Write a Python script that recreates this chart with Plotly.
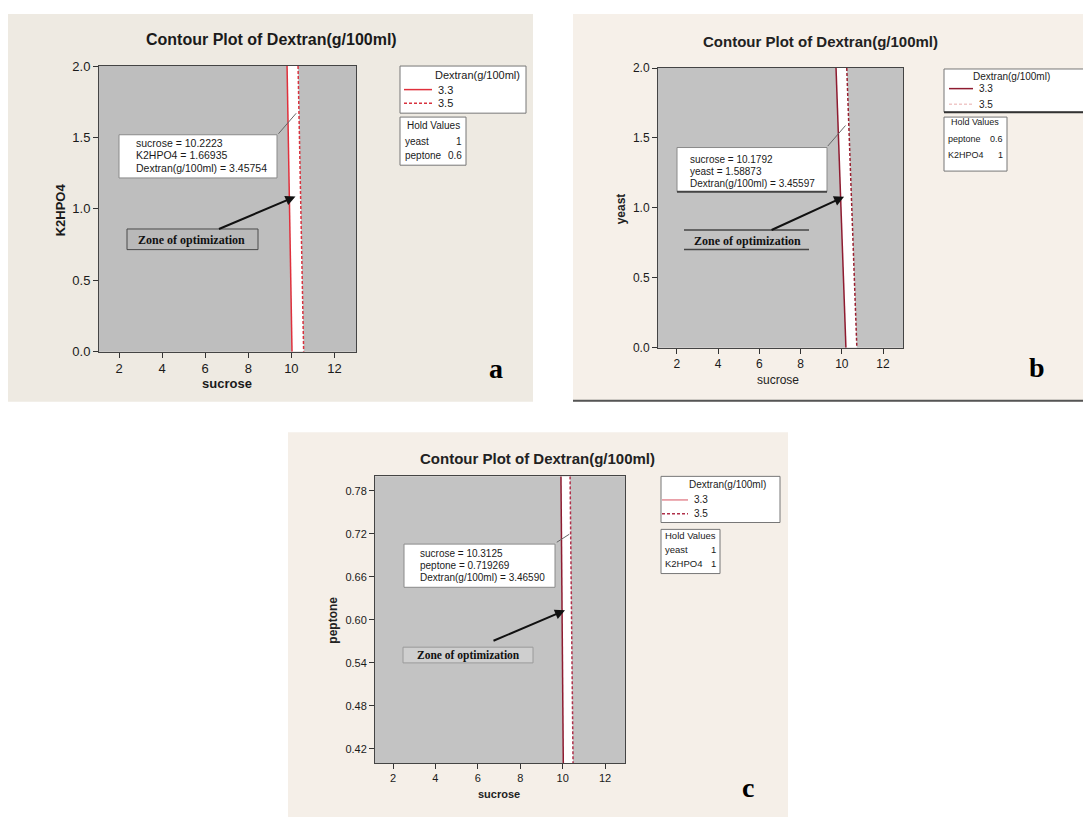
import plotly.graph_objects as go

W, H = 1091, 817
OFF = 8  # page body margin observed in the rendering

# ---------------- data ----------------
sucrose_ticks = [2, 4, 6, 8, 10, 12]
k2hpo4_ticks = [0.0, 0.5, 1.0, 1.5, 2.0]
yeast_ticks = [0.0, 0.5, 1.0, 1.5, 2.0]
peptone_ticks = [0.42, 0.48, 0.54, 0.60, 0.66, 0.72, 0.78]
contour_levels = ["3.3", "3.5"]

# panel a : sucrose vs K2HPO4 (yeast 1, peptone 0.6)
a_k2hpo4 = [2.0, 0.0]
a_sucrose_33 = [9.80, 10.03]
a_sucrose_35 = [10.31, 10.57]
a_opt = [10.2223, 1.66935, 3.45754]
a_hold = [["yeast", "1"], ["peptone", "0.6"]]

# panel b : sucrose vs yeast (peptone 0.6, K2HPO4 1)
b_yeast = [2.0, 0.0]
b_sucrose_33 = [9.72, 10.20]
b_sucrose_35 = [10.24, 10.73]
b_opt = [10.1792, 1.58873, 3.45597]
b_hold = [["peptone", "0.6"], ["K2HPO4", "1"]]

# panel c : sucrose vs peptone (yeast 1, K2HPO4 1)
c_peptone = [0.80, 0.40]
c_sucrose_33 = [9.92, 10.03]
c_sucrose_35 = [10.35, 10.49]
c_opt = [10.3125, 0.719269, 3.46590]
c_hold = [["yeast", "1"], ["K2HPO4", "1"]]

zone_text = "Zone of optimization"
title_text = "Contour Plot of Dextran(g/100ml)"
resp_name = "Dextran(g/100ml)"

SANS = "Liberation Sans, Arial, sans-serif"
SERIF = "Liberation Serif, Times New Roman, serif"

def px(x):
    return (x - OFF) / W

def py(y):
    return 1 - (y - OFF) / H

shapes = []
annotations = []

def rect(x0, y0, x1, y1, fill, line=None, lw=1):
    shapes.append(dict(type="rect", xref="paper", yref="paper",
                       x0=px(x0), x1=px(x1), y0=py(y1), y1=py(y0),
                       fillcolor=fill, layer="below",
                       line=dict(color=line if line else "rgba(0,0,0,0)", width=lw if line else 0)))

def seg(x0, y0, x1, y1, color, lw=1, dash="solid"):
    shapes.append(dict(type="line", xref="paper", yref="paper",
                       x0=px(x0), x1=px(x1), y0=py(y0), y1=py(y1), layer="below",
                       line=dict(color=color, width=lw, dash=dash)))

def text(x, y, s, size=11, xanchor="left", bold=False, family=SANS, color="#1a1a1a", angle=0):
    if bold:
        s = "<b>" + s + "</b>"
    annotations.append(dict(x=px(x), y=py(y), xref="paper", yref="paper", text=s,
                            showarrow=False, xanchor=xanchor, yanchor="middle",
                            textangle=angle, font=dict(family=family, size=size, color=color)))

def arrow(xref, yref, x, y, ax, ay, color, width, head):
    annotations.append(dict(x=x, y=y, xref=xref, yref=yref, ax=ax, ay=ay, text="",
                            showarrow=True, arrowhead=head, arrowsize=1, arrowwidth=width,
                            arrowcolor=color, standoff=0))

fig = go.Figure()

# ---------------- panel backgrounds ----------------
rect(7, 7, 533, 402, "#EEEAE2")
rect(573, 7, 1100, 402, "#F6F0E9")
seg(573, 401, 1100, 401, "#555555", 2)
rect(288, 433, 788, 826, "#F5EFE8")

# plot areas (gray)
rect(99, 60, 356, 351, "#BEBEBE")
rect(658, 62, 903, 347, "#C2C2C2")
rect(375, 478, 625, 770, "#C3C3C3")

# ---------------- contour traces ----------------
panels = [
    dict(xa="x", ya="y", yv=a_k2hpo4, lo=a_sucrose_33, hi=a_sucrose_35,
         c33="#E0303C", c35="#D8323E"),
    dict(xa="x2", ya="y2", yv=b_yeast, lo=b_sucrose_33, hi=b_sucrose_35,
         c33="#8E1B30", c35="#9A2030"),
    dict(xa="x3", ya="y3", yv=c_peptone, lo=c_sucrose_33, hi=c_sucrose_35,
         c33="#8E1B30", c35="#B0304A"),
]
for p in panels:
    fig.add_trace(go.Scatter(
        x=[p["lo"][0], p["hi"][0], p["hi"][1], p["lo"][1]],
        y=[p["yv"][0], p["yv"][0], p["yv"][1], p["yv"][1]],
        fill="toself", fillcolor="white", mode="lines", line=dict(width=0),
        xaxis=p["xa"], yaxis=p["ya"], showlegend=False, hoverinfo="skip"))
    fig.add_trace(go.Scatter(x=p["lo"], y=p["yv"], mode="lines",
                             line=dict(color=p["c33"], width=1.5),
                             xaxis=p["xa"], yaxis=p["ya"], showlegend=False,
                             name=contour_levels[0]))
    fig.add_trace(go.Scatter(x=p["hi"], y=p["yv"], mode="lines",
                             line=dict(color=p["c35"], width=1.5, dash="3px,2px"),
                             xaxis=p["xa"], yaxis=p["ya"], showlegend=False,
                             name=contour_levels[1]))

# ---------------- axes ----------------
def axis(domain, rng, ticks, fmt=None, size=12):
    d = dict(domain=domain, range=rng, tickvals=ticks, showgrid=False, zeroline=False,
             ticks="outside", ticklen=5, tickcolor="#333333", showline=True,
             linecolor="#444444", linewidth=1, mirror=True,
             tickfont=dict(family=SANS, size=size, color="#1a1a1a"))
    if fmt:
        d["tickformat"] = fmt
    return d

layout_axes = dict(
    xaxis=dict(axis([px(99), px(356)], [1.07, 13.0], sucrose_ticks, size=13), anchor="y"),
    yaxis=dict(axis([py(351), py(60)], [0, 2], k2hpo4_ticks, ".1f", size=13), anchor="x"),
    xaxis2=dict(axis([px(658), px(903)], [1.08, 12.97], sucrose_ticks, size=12), anchor="y2"),
    yaxis2=dict(axis([py(347), py(62)], [0, 2], yeast_ticks, ".1f", size=12), anchor="x2"),
    xaxis3=dict(axis([px(375), px(625)], [1.15, 12.94], sucrose_ticks, size=11), anchor="y3"),
    yaxis3=dict(axis([py(770), py(478)], [0.40, 0.80], peptone_ticks, ".2f", size=11), anchor="x3"),
)

# ---------------- titles / axis titles ----------------
text(271, 33, title_text, 16, "center", True)
text(820, 35, title_text, 15, "center", True, color="#222222")
text(537, 460, title_text, 15, "center", True, color="#222222")

text(227, 383, "sucrose", 13, "center", True)
text(60, 207, "K2HPO4", 13, "center", True, angle=-90)
text(778, 380, "sucrose", 12, "center", False, color="#222222")
text(621, 206, "yeast", 12, "center", True, color="#222222", angle=-90)
text(499, 802, "sucrose", 11, "center", True, color="#222222")
text(333, 625, "peptone", 12, "center", True, color="#222222", angle=-90)

# panel letters
text(496, 368, "a", 28, "center", True, SERIF, "#000000")
text(1037, 367, "b", 28, "center", True, SERIF, "#000000")
text(748, 795, "c", 28, "center", True, SERIF, "#000000")

# ---------------- data-point labels ----------------
def label_box(box, lines, tx, ty, dy, size, opt, xr, yr, ax, ay, bottom_shadow=False):
    x0, y0, x1, y1 = box
    rect(x0, y0, x1, y1, "white", "#8a8a8a", 1)
    if bottom_shadow:
        seg(x0, y1, x1, y1, "#444444", 2)
    for i, s in enumerate(lines):
        text(tx, ty + i * dy, s, size)
    arrow(xr, yr, opt[0], opt[1], ax, ay, "#666666", 1, 0)

label_box((119, 130, 277, 174),
          ["sucrose = %.4f" % a_opt[0], "K2HPO4 = %.5f" % a_opt[1], "%s = %.5f" % (resp_name, a_opt[2])],
          134, 138, 13, 10.5, a_opt, "x", "y", -19, 22)
label_box((677, 143, 827, 188),
          ["sucrose = %.4f" % b_opt[0], "yeast = %.5f" % b_opt[1], "%s = %.5f" % (resp_name, b_opt[2])],
          688, 155, 12.5, 10, b_opt, "x2", "y2", -19, 22, True)
label_box((404, 547, 555, 591),
          ["sucrose = %.4f" % c_opt[0], "peptone = %.6f" % c_opt[1], "%s = %.5f" % (resp_name, c_opt[2])],
          418, 557, 12, 10, c_opt, "x3", "y3", -14, 9)

# ---------------- zone of optimization ----------------
rect(127, 226, 258, 247, "#B9B9B9", "#4a4a4a", 1)
text(192, 237, zone_text, 12, "center", True, SERIF, "#111111")
arrow("x", "y", 10.19, 1.086, -78, 33, "#111111", 2, 2)

seg(684, 227, 809, 227, "#444444", 1.5)
seg(684, 247, 809, 247, "#444444", 1.5)
text(747, 238, zone_text, 12, "center", True, SERIF, "#111111")
arrow("x2", "y2", 10.11, 1.08, -74, 34, "#111111", 2, 2)

rect(403, 652, 533, 668, "#CFCFCF", "#9a9a9a", 1)
text(468, 660, zone_text, 11.5, "center", True, SERIF, "#111111")
arrow("x3", "y3", 10.11, 0.613, -73, 31, "#111111", 2, 2)

# ---------------- legends ----------------
def legend_box(box, title_right, ty, sx0, sx1, lx, ys, c1, c2, size, shadow=False):
    x0, y0, x1, y1 = box
    rect(x0, y0, x1, y1, "white", "#777777", 1)
    if shadow:
        seg(x0, y1, x1, y1, "#333333", 2)
    text(title_right, ty, resp_name, size, "right")
    seg(sx0, ys[0], sx1, ys[0], c1, 1.5)
    seg(sx0, ys[1], sx1, ys[1], c2, 1.5, "3px,2px")
    text(lx, ys[0], contour_levels[0], size)
    text(lx, ys[1], contour_levels[1], size)

def hold_box(box, cx, ty, lx, rx, ys, rows, size):
    x0, y0, x1, y1 = box
    rect(x0, y0, x1, y1, "white", "#777777", 1)
    text(cx, ty, "Hold Values", size, "center")
    for (n, v), yy in zip(rows, ys):
        text(lx, yy, n, size)
        text(rx, yy, v, size, "right")

legend_box((400, 60, 526, 108), 522, 69, 404, 432, 436, (84, 98), "#E0303C", "#D8323E", 11)
hold_box((400, 112, 466, 161), 433, 121, 403, 464, (137, 151), a_hold, 10)

legend_box((944, 63, 1100, 107), 1052, 71, 949, 973, 977, (83, 99), "#8E1B30", "#F0C8C8", 10, True)
hold_box((944, 112, 1007, 167), 975, 117, 946, 1005, (134, 151), b_hold, 9)

legend_box((661, 478, 780, 525), 768, 486, 662, 688, 692, (502, 516), "#E58C95", "#B0304A", 10)
hold_box((661, 532, 720, 577), 690, 538, 663, 718, (552, 567), c_hold, 9.5)

fig.update_layout(
    width=W, height=H, autosize=False,
    margin=dict(l=0, r=0, t=0, b=0),
    paper_bgcolor="white", plot_bgcolor="rgba(0,0,0,0)",
    showlegend=False, shapes=shapes, annotations=annotations,
    **layout_axes,
)

fig.write_html("out.html")
